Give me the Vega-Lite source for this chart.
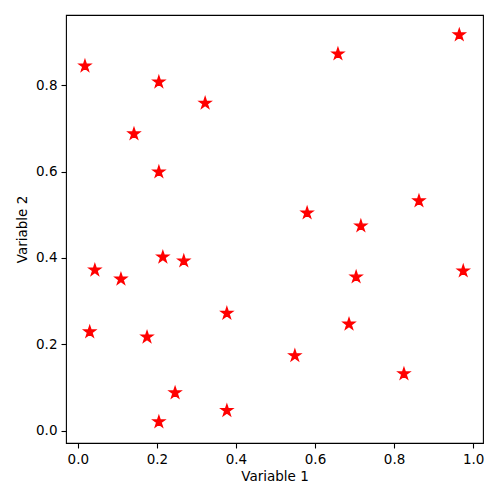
{
  "$schema": "https://vega.github.io/schema/vega-lite/v6.json",
  "width": 417,
  "height": 428,
  "autosize": "none",
  "padding": {"left": 66, "top": 15, "right": 17, "bottom": 57},
  "background": "white",
  "config": {
    "view": {"stroke": "black", "strokeWidth": 1.1},
    "axis": {
      "grid": false,
      "domain": false,
      "tickColor": "black",
      "tickSize": 5,
      "tickWidth": 1.1,
      "labelColor": "black",
      "labelFont": "DejaVu Sans",
      "labelFontSize": 13.5,
      "labelPadding": 4,
      "titleFont": "DejaVu Sans",
      "titleFontSize": 13.5,
      "titleFontWeight": "normal",
      "titleColor": "black"
    }
  },
  "data": {
    "values": [
      {"v1": 0.018, "v2": 0.844},
      {"v1": 0.205, "v2": 0.807},
      {"v1": 0.322, "v2": 0.758},
      {"v1": 0.142, "v2": 0.687},
      {"v1": 0.205, "v2": 0.599},
      {"v1": 0.658, "v2": 0.872},
      {"v1": 0.965, "v2": 0.916},
      {"v1": 0.580, "v2": 0.504},
      {"v1": 0.863, "v2": 0.532},
      {"v1": 0.716, "v2": 0.474},
      {"v1": 0.043, "v2": 0.372},
      {"v1": 0.109, "v2": 0.351},
      {"v1": 0.215, "v2": 0.402},
      {"v1": 0.268, "v2": 0.393},
      {"v1": 0.704, "v2": 0.356},
      {"v1": 0.975, "v2": 0.370},
      {"v1": 0.030, "v2": 0.229},
      {"v1": 0.175, "v2": 0.217},
      {"v1": 0.377, "v2": 0.272},
      {"v1": 0.686, "v2": 0.247},
      {"v1": 0.549, "v2": 0.174},
      {"v1": 0.825, "v2": 0.132},
      {"v1": 0.246, "v2": 0.088},
      {"v1": 0.377, "v2": 0.047},
      {"v1": 0.205, "v2": 0.021}
    ]
  },
  "mark": {
    "type": "point",
    "filled": true,
    "fill": "red",
    "stroke": "red",
    "strokeWidth": 1.4,
    "strokeJoin": "miter",
    "opacity": 1,
    "size": 140,
    "shape": "M0,-1L0.2245,-0.309L0.951,-0.309L0.363,0.118L0.588,0.809L0,0.382L-0.588,0.809L-0.363,0.118L-0.951,-0.309L-0.2245,-0.309Z"
  },
  "encoding": {
    "x": {
      "field": "v1",
      "type": "quantitative",
      "title": "Variable 1",
      "scale": {"domain": [-0.03, 1.025], "nice": false, "zero": false},
      "axis": {"values": [0, 0.2, 0.4, 0.6, 0.8, 1.0], "format": ".1f", "titlePadding": 4}
    },
    "y": {
      "field": "v2",
      "type": "quantitative",
      "title": "Variable 2",
      "scale": {"domain": [-0.028, 0.962], "nice": false, "zero": false},
      "axis": {"values": [0, 0.2, 0.4, 0.6, 0.8], "format": ".1f", "titlePadding": 6}
    }
  }
}
